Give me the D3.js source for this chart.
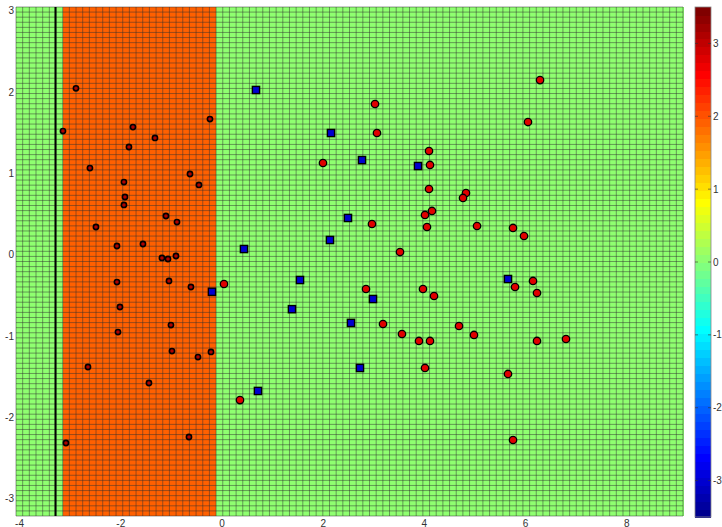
<!DOCTYPE html>
<html>
<head>
<meta charset="utf-8">
<script src="https://cdn.jsdelivr.net/npm/d3@7"></script>
<style>
  html, body { margin: 0; padding: 0; background: #ffffff; }
  svg { display: block; }
  text { font-family: "Liberation Sans", Arial, sans-serif; font-size: 10px; fill: #333333; }
</style>
</head>
<body>
<svg id="chart" width="722" height="527"></svg>
<script>
// Axis ranges
const xDomain = [-4.07, 9.11];
const yDomain = [-3.213, 3.048];
const colorDomain = [-3.5, 3.5];

// Tick labels
const xTicks = [-4, -2, 0, 2, 4, 6, 8];
const yTicks = [-3, -2, -1, 0, 1, 2, 3];
const colorTicks = [-3, -2, -1, 0, 1, 2, 3];

// Fitted surface: one interval on x with a raised value, flat elsewhere
const splitEdges = [-3.15, -0.12];
const regionValues = [0.1, 1.95, 0.1];
const gridCells = [100, 100];

// Threshold line
const thresholdX = -3.29;

// Class 1 samples inside the raised interval
const innerX = [-2.885, -3.142, -1.759, -0.237, -1.324, -1.838, -2.609, -0.632, -1.937, -0.455,
                -1.917, -1.937, -1.107, -0.889, -2.490, -1.561, -2.075, -1.186, -1.067, -0.909,
                -2.075, -1.047, -0.613, -2.016, -1.008, -2.055, -0.988, -0.217, -0.474, -2.648,
                -1.443, -0.652, -3.083];
const innerY = [2.048, 1.522, 1.571, 1.670, 1.437, 1.326, 1.067, 0.994, 0.895, 0.859,
                0.711, 0.613, 0.477, 0.403, 0.342, 0.133, 0.108, -0.039, -0.052, -0.015,
                -0.335, -0.322, -0.396, -0.642, -0.864, -0.950, -1.184, -1.195, -1.258, -1.380,
                -1.577, -2.241, -2.315];

// Class 1 samples outside the interval
const outerX = [6.285, 3.024, 6.047, 3.063, 4.091, 1.996, 4.111, 4.091, 4.822, 4.763,
                4.150, 4.012, 2.964, 4.051, 5.040, 5.751, 5.968, 3.518, 0.040, 6.146,
                5.791, 2.846, 3.972, 6.225, 4.190, 3.182, 4.684, 3.557, 4.980, 3.893,
                4.111, 6.225, 6.798, 4.012, 5.652, 0.356, 5.751];
const outerY = [2.149, 1.855, 1.633, 1.498, 1.277, 1.129, 1.105, 0.809, 0.760, 0.699,
                0.539, 0.490, 0.379, 0.342, 0.354, 0.330, 0.231, 0.034, -0.359, -0.322,
                -0.396, -0.421, -0.421, -0.470, -0.507, -0.851, -0.876, -0.974, -0.986, -1.060,
                -1.060, -1.060, -1.036, -1.392, -1.466, -1.787, -2.278];

// Class 2 samples
const class2X = [0.672, 2.154, 2.767, 3.874, 2.490, 2.134, 0.435, 1.542, 5.652, -0.198,
                 2.984, 1.383, 2.549, 2.727, 0.711];
const class2Y = [2.027, 1.498, 1.165, 1.092, 0.453, 0.182, 0.071, -0.310, -0.298, -0.455,
                 -0.544, -0.669, -0.838, -1.392, -1.675];

// MATLAB-style jet colormap with m levels
function jet(m) {
  const n = Math.ceil(m / 4);
  const u = [];
  for (let i = 1; i <= n; i++) u.push(i / n);
  for (let i = 1; i < n; i++) u.push(1);
  for (let i = n; i >= 1; i--) u.push(i / n);
  const base = Math.ceil(n / 2) - (m % 4 === 1 ? 1 : 0);
  const J = Array.from({length: m}, () => [0, 0, 0]);
  u.forEach((val, k) => {
    const g = base + k + 1, r = g + n, b = g - n;
    if (r >= 1 && r <= m) J[r - 1][0] = val;
    if (g >= 1 && g <= m) J[g - 1][1] = val;
    if (b >= 1 && b <= m) J[b - 1][2] = val;
  });
  return J.map(c => d3.rgb(c[0] * 255, c[1] * 255, c[2] * 255).formatHex());
}
const levels = jet(64);
const colorOf = v => {
  const t = (v - colorDomain[0]) / (colorDomain[1] - colorDomain[0]);
  const idx = Math.max(0, Math.min(levels.length - 1, Math.floor(t * levels.length)));
  return levels[idx];
};

const plot = {left: 16, right: 683, top: 7, bottom: 516};
const bar = {left: 695, right: 711, top: 7, bottom: 517};

const x = d3.scaleLinear().domain(xDomain).range([plot.left, plot.right]);
const y = d3.scaleLinear().domain(yDomain).range([plot.bottom, plot.top]);
const c = d3.scaleLinear().domain(colorDomain).range([bar.bottom, bar.top]);

const svg = d3.select("#chart");

// Surface cells
const [nx, ny] = gridCells;
const dx = (xDomain[1] - xDomain[0]) / nx;
const dy = (yDomain[1] - yDomain[0]) / ny;
const regionAt = xv => xv < splitEdges[0] ? regionValues[0] : (xv < splitEdges[1] ? regionValues[1] : regionValues[2]);

const cols = d3.range(nx).map(i => {
  const x0 = xDomain[0] + i * dx;
  return {x0, x1: x0 + dx, v: regionAt(x0 + dx / 2)};
});
// columns share one value top to bottom, so draw each column as a strip
svg.append("g").selectAll("rect").data(cols).join("rect")
  .attr("x", d => x(d.x0))
  .attr("width", d => x(d.x1) - x(d.x0) + 0.5)
  .attr("y", plot.top)
  .attr("height", plot.bottom - plot.top)
  .attr("fill", d => colorOf(d.v))
  .attr("shape-rendering", "crispEdges");

// Cell edges
const gridG = svg.append("g").attr("stroke", "#303030").attr("stroke-opacity", 0.48).attr("stroke-width", 1);
gridG.selectAll("line.v").data(d3.range(nx + 1)).join("line").attr("class", "v")
  .attr("x1", i => x(xDomain[0] + i * dx)).attr("x2", i => x(xDomain[0] + i * dx))
  .attr("y1", plot.top).attr("y2", plot.bottom);
gridG.selectAll("line.h").data(d3.range(ny + 1)).join("line").attr("class", "h")
  .attr("y1", j => y(yDomain[0] + j * dy)).attr("y2", j => y(yDomain[0] + j * dy))
  .attr("x1", plot.left).attr("x2", plot.right);

// Threshold line
svg.append("line")
  .attr("x1", x(thresholdX)).attr("x2", x(thresholdX))
  .attr("y1", plot.top).attr("y2", plot.bottom)
  .attr("stroke", "#000").attr("stroke-width", 2);

// Samples
const inner = innerX.map((v, i) => [v, innerY[i]]);
const outer = outerX.map((v, i) => [v, outerY[i]]);
const class2 = class2X.map((v, i) => [v, class2Y[i]]);

svg.append("g").selectAll("circle").data(inner).join("circle")
  .attr("cx", d => x(d[0])).attr("cy", d => y(d[1])).attr("r", 2.6)
  .attr("fill", "#b00000").attr("stroke", "#000").attr("stroke-width", 1.6);

svg.append("g").selectAll("circle").data(outer).join("circle")
  .attr("cx", d => x(d[0])).attr("cy", d => y(d[1])).attr("r", 3.7)
  .attr("fill", "#e00000").attr("stroke", "#000").attr("stroke-width", 1.3);

const sq = 7.2;
svg.append("g").selectAll("rect").data(class2).join("rect")
  .attr("x", d => x(d[0]) - sq / 2).attr("y", d => y(d[1]) - sq / 2)
  .attr("width", sq).attr("height", sq)
  .attr("fill", "#0000d0").attr("stroke", "#000").attr("stroke-width", 1.4);

// Axis labels
const fmt = d => String(d);
svg.append("g").selectAll("text").data(xTicks).join("text")
  .attr("x", d => x(d)).attr("y", 526.5)
  .attr("text-anchor", "middle").text(fmt);
svg.append("g").selectAll("text").data(yTicks).join("text")
  .attr("x", 14).attr("y", d => y(d) + 3.5)
  .attr("text-anchor", "end").text(fmt);

// Colorbar
svg.append("g").selectAll("rect").data(levels).join("rect")
  .attr("x", bar.left).attr("width", bar.right - bar.left)
  .attr("y", (d, i) => c(colorDomain[0] + (i + 1) * (colorDomain[1] - colorDomain[0]) / levels.length))
  .attr("height", (bar.bottom - bar.top) / levels.length + 0.6)
  .attr("fill", d => d)
  .attr("shape-rendering", "crispEdges");
svg.append("rect")
  .attr("x", bar.left).attr("y", bar.top)
  .attr("width", bar.right - bar.left).attr("height", bar.bottom - bar.top)
  .attr("fill", "none").attr("stroke", "#888").attr("stroke-width", 0.8);
const cbTicks = svg.append("g").attr("stroke", "#333").attr("stroke-opacity", 0.6).attr("stroke-width", 1);
colorTicks.forEach(t => {
  cbTicks.append("line").attr("x1", bar.left).attr("x2", bar.left + 3).attr("y1", c(t)).attr("y2", c(t));
  cbTicks.append("line").attr("x1", bar.right - 3).attr("x2", bar.right).attr("y1", c(t)).attr("y2", c(t));
});
svg.append("g").selectAll("text").data(colorTicks).join("text")
  .attr("x", bar.right + 2).attr("y", d => c(d) + 3.5)
  .attr("text-anchor", "start").text(fmt);
</script>
</body>
</html>
